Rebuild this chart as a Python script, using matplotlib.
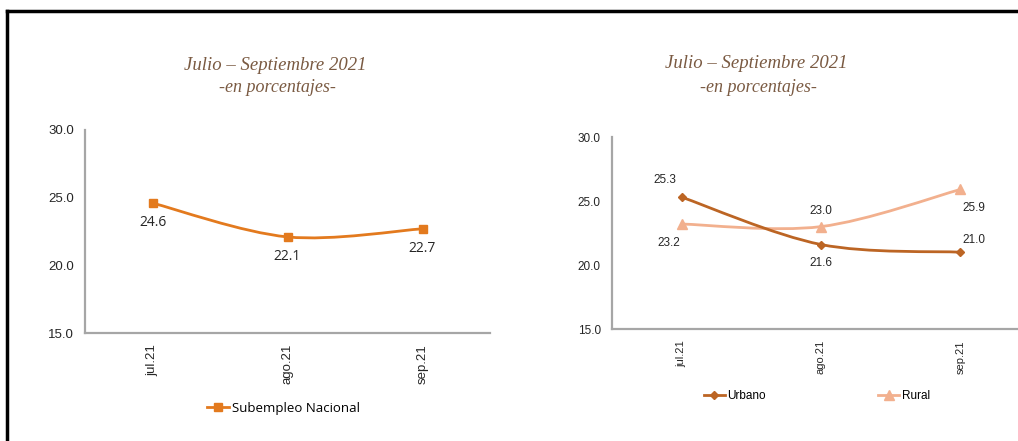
import numpy as np
import matplotlib
matplotlib.use("Agg")
import matplotlib.pyplot as plt
from matplotlib.path import Path
from matplotlib.patches import PathPatch
from matplotlib.lines import Line2D

# data
meses = ["jul.21", "ago.21", "sep.21"]
nacional = [24.6, 22.1, 22.7]
urbano = [25.3, 21.6, 21.0]
rural = [23.2, 23.0, 25.9]
yticks = [15.0, 20.0, 25.0, 30.0]

titulo = "Julio – Septiembre 2021"
subtitulo = "-en porcentajes-"

c_nac = "#E37A1E"
c_urb = "#BC6524"
c_rur = "#F2B08E"
c_tit = "#7A5A42"
c_axis = "#A6A6A6"


def smooth(ax, x, y, color, lw):
    # excel-like smoothed line through the points (bezier segments)
    x = np.asarray(x, float)
    y = np.asarray(y, float)
    n = len(x)
    verts = [(x[0], y[0])]
    codes = [Path.MOVETO]
    t = 1 / 6
    for i in range(n - 1):
        i0 = max(i - 1, 0)
        i3 = min(i + 2, n - 1)
        c1 = (x[i] + (x[i + 1] - x[i0]) * t, y[i] + (y[i + 1] - y[i0]) * t)
        c2 = (x[i + 1] - (x[i3] - x[i]) * t, y[i + 1] - (y[i3] - y[i]) * t)
        verts += [c1, c2, (x[i + 1], y[i + 1])]
        codes += [Path.CURVE4] * 3
    ax.add_patch(PathPatch(Path(verts, codes), fill=False, edgecolor=color, lw=lw,
                           transform=ax.transData, zorder=2))


def style_axes(ax, tsize, xsize):
    ax.set_ylim(15, 30)
    ax.set_xlim(-0.5, 2.5)
    ax.set_yticks(yticks)
    ax.set_yticklabels([f"{v:.1f}" for v in yticks], family="Liberation Sans", fontsize=tsize,
                       color="#262626")
    ax.set_xticks(range(len(meses)))
    ax.set_xticklabels(meses, rotation=90, family="Liberation Sans", fontsize=xsize,
                       color="#262626")
    for s in ["top", "right"]:
        ax.spines[s].set_visible(False)
    for s in ["left", "bottom"]:
        ax.spines[s].set_color(c_axis)
        ax.spines[s].set_linewidth(1.6)
    ax.tick_params(length=0, pad=8)
    ax.set_facecolor("none")


fig = plt.figure(figsize=(10.18, 4.41), dpi=100)

# frame
fig.add_artist(Line2D([7 / 1018, 1], [1 - 11 / 441, 1 - 11 / 441], color="black", lw=2.5,
                      transform=fig.transFigure))
fig.add_artist(Line2D([7 / 1018, 7 / 1018], [0, 1 - 11 / 441], color="black", lw=2.5,
                      transform=fig.transFigure))

x = np.arange(len(meses))
serif = ["Liberation Serif", "DejaVu Serif"]

# left chart
ax1 = fig.add_axes([85 / 1018, 1 - 333 / 441, 405 / 1018, 203 / 441])
style_axes(ax1, 9.5, 9.5)
smooth(ax1, x, nacional, c_nac, 2.0)
ax1.plot(x, nacional, ls="none", marker="s", ms=5.5, color=c_nac, zorder=3)
for xi, v in zip(x, nacional):
    ax1.annotate(f"{v:.1f}", (xi, v), xytext=(0, -14), textcoords="offset points",
                 ha="center", va="center", fontsize=10, family="Open Sans", color="#262626")
ax1.legend(handles=[Line2D([], [], color=c_nac, lw=2, marker="s", ms=5.5)],
           labels=["Subempleo Nacional"], loc="center", bbox_to_anchor=(0.49, -0.37),
           frameon=False, prop={"family": "Open Sans", "size": 9.5}, handlelength=1.7,
           handletextpad=0.2)
fig.text(275 / 1018, 1 - 65 / 441, titulo, ha="center", va="center", family=serif,
         style="italic", fontsize=13.5, color=c_tit)
fig.text(277 / 1018, 1 - 88 / 441, subtitulo, ha="center", va="center", family=serif,
         style="italic", fontsize=13, color=c_tit)

# right chart
ax2 = fig.add_axes([612 / 1018, 1 - 329 / 441, 418 / 1018, 192 / 441])
style_axes(ax2, 8.5, 8)
smooth(ax2, x, rural, c_rur, 2.0)
smooth(ax2, x, urbano, c_urb, 2.0)
ax2.plot(x, rural, ls="none", marker="^", ms=7.5, color=c_rur, zorder=3)
ax2.plot(x, urbano, ls="none", marker="D", ms=4.5, color=c_urb, zorder=4)
urb_off = [(-12, 12), (0, -13), (10, 9)]
rur_off = [(-9, -14), (0, 11), (10, -13)]
for xi, v, o in zip(x, urbano, urb_off):
    ax2.annotate(f"{v:.1f}", (xi, v), xytext=o, textcoords="offset points",
                 ha="center", va="center", fontsize=8.5, family="Liberation Sans", color="#262626")
for xi, v, o in zip(x, rural, rur_off):
    ax2.annotate(f"{v:.1f}", (xi, v), xytext=o, textcoords="offset points",
                 ha="center", va="center", fontsize=8.5, family="Liberation Sans", color="#262626")
ax2.legend(handles=[Line2D([], [], color=c_urb, lw=2, marker="D", ms=4.5),
                    Line2D([], [], color=c_rur, lw=2, marker="^", ms=7.5)],
           labels=["Urbano", "Rural"], loc="center", bbox_to_anchor=(0.49, -0.35), ncol=2,
           frameon=False, prop={"family": "Liberation Sans", "size": 8.5}, handlelength=1.8,
           handletextpad=0.2, columnspacing=9.5)
fig.text(756 / 1018, 1 - 63 / 441, titulo, ha="center", va="center", family=serif,
         style="italic", fontsize=13.5, color=c_tit)
fig.text(758 / 1018, 1 - 87 / 441, subtitulo, ha="center", va="center", family=serif,
         style="italic", fontsize=13, color=c_tit)

fig.savefig("out.png", dpi=100)
